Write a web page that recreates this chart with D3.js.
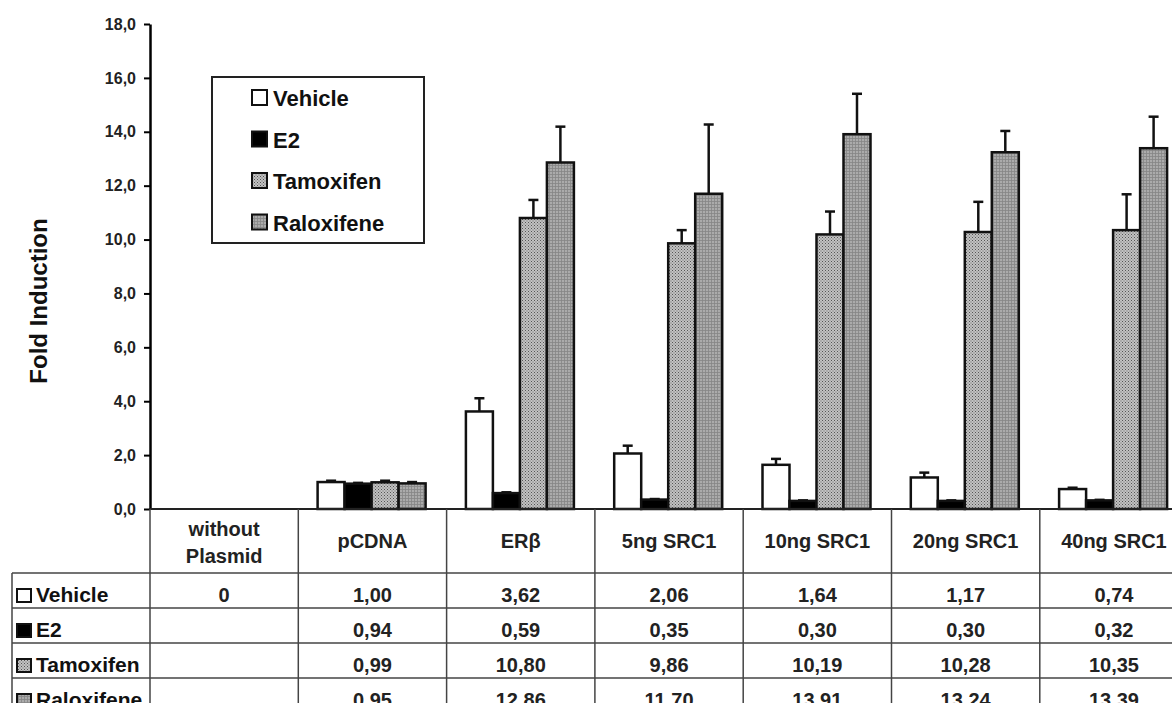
<!DOCTYPE html>
<html><head><meta charset="utf-8">
<script src="https://cdn.jsdelivr.net/npm/d3@7"></script>
<style>body{margin:0;background:#fff}svg{display:block;font-family:"Liberation Sans",Arial,sans-serif;font-weight:bold}</style>
</head><body>
<svg id="c" width="1172" height="703"></svg>
<script>
const categories = ["without Plasmid", "pCDNA", "ERβ", "5ng SRC1", "10ng SRC1", "20ng SRC1", "40ng SRC1"];
const seriesNames = ["Vehicle", "E2", "Tamoxifen", "Raloxifene"];
const vehicle   = [0, 1.00, 3.62, 2.06, 1.64, 1.17, 0.74];
const e2        = [null, 0.94, 0.59, 0.35, 0.30, 0.30, 0.32];
const tamoxifen = [null, 0.99, 10.80, 9.86, 10.19, 10.28, 10.35];
const raloxifene= [null, 0.95, 12.86, 11.70, 13.91, 13.24, 13.39];
const vehicleErr   = [0, 0.05, 0.49, 0.29, 0.22, 0.18, 0.05];
const e2Err        = [0, 0.03, 0.03, 0.02, 0.02, 0.02, 0.02];
const tamoxifenErr = [0, 0.06, 0.67, 0.49, 0.85, 1.12, 1.33];
const raloxifeneErr= [0, 0.05, 1.33, 2.57, 1.50, 0.79, 1.17];
const yTicks = [0, 2, 4, 6, 8, 10, 12, 14, 16, 18];

const values = [vehicle, e2, tamoxifen, raloxifene];
const errs = [vehicleErr, e2Err, tamoxifenErr, raloxifeneErr];
const fills = ["#ffffff", "#000000", "url(#tam)", "url(#ral)"];

const svg = d3.select("#c");
const defs = svg.append("defs");
const pt = defs.append("pattern").attr("id","tam").attr("width",3).attr("height",3).attr("patternUnits","userSpaceOnUse");
pt.append("rect").attr("width",3).attr("height",3).attr("fill","#c2c2c2");
pt.append("rect").attr("x",0).attr("y",0).attr("width",1).attr("height",1).attr("fill","#555");
pt.append("rect").attr("x",1.5).attr("y",1.5).attr("width",1).attr("height",1).attr("fill","#666");
const pr = defs.append("pattern").attr("id","ral").attr("width",3).attr("height",3).attr("patternUnits","userSpaceOnUse");
pr.append("rect").attr("width",3).attr("height",3).attr("fill","#ababab");
pr.append("rect").attr("x",0).attr("y",0).attr("width",3).attr("height",0.8).attr("fill","#858585");
pr.append("rect").attr("x",0).attr("y",0).attr("width",0.8).attr("height",3).attr("fill","#858585");

const left = 150, colW = 148.3, y0 = 509;
const x = d3.scaleBand().domain(categories).range([left, left + colW*categories.length]).paddingInner(0).paddingOuter(0);
const xs = d3.scaleBand().domain(seriesNames).range([19.3, 127.3]).padding(0);
const y = d3.scaleLinear().domain([0, 18]).range([y0, 24]);

// y axis
const yAxis = d3.axisLeft(y).tickValues(yTicks).tickSize(6).tickSizeOuter(0).tickPadding(8)
  .tickFormat(d => d3.format(".1f")(d).replace(".", ","));
const ga = svg.append("g").attr("transform", `translate(${left},0)`).call(yAxis);
ga.select(".domain").attr("stroke","#000").attr("stroke-width",2.5);
ga.selectAll(".tick line").attr("stroke","#000").attr("stroke-width",2);
ga.selectAll(".tick text").attr("font-size",16).attr("font-weight","bold").attr("fill","#222")
  .attr("font-family",'"Liberation Sans",Arial,sans-serif');

svg.append("text").attr("transform","translate(47,301) rotate(-90)").attr("text-anchor","middle")
  .attr("font-size",24).attr("fill","#111").text("Fold Induction");

// bars
seriesNames.forEach((s, si) => {
  const g = svg.append("g");
  categories.forEach((c, ci) => {
    const v = values[si][ci];
    if (v === null || v === 0) return;
    const bx = x(c) + xs(s), bw = xs.bandwidth();
    const e = errs[si][ci];
    const cx = bx + bw/2;
    g.append("line").attr("x1",cx).attr("x2",cx).attr("y1",y(v)).attr("y2",y(v+e)).attr("stroke","#111").attr("stroke-width",2.5);
    g.append("line").attr("x1",cx-5).attr("x2",cx+5).attr("y1",y(v+e)).attr("y2",y(v+e)).attr("stroke","#111").attr("stroke-width",2.5);
    g.append("rect").attr("x",bx).attr("y",y(v)).attr("width",bw).attr("height",y0 - y(v))
      .attr("fill",fills[si]).attr("stroke","#111").attr("stroke-width",2.5);
  });
});

// table
const rowTop = 573, rowH = 35, tableLeft = 12;
const tbl = svg.append("g").attr("stroke","#444").attr("stroke-width",1.5);
tbl.append("line").attr("x1",left).attr("x2",1172).attr("y1",y0).attr("y2",y0).attr("stroke","#222").attr("stroke-width",2);
categories.forEach((c) => {
  tbl.append("line").attr("x1",x(c)).attr("x2",x(c)).attr("y1",y0).attr("y2",703);
});
tbl.append("line").attr("x1",tableLeft).attr("x2",tableLeft).attr("y1",rowTop).attr("y2",703);
seriesNames.forEach((s, si) => {
  tbl.append("line").attr("x1",tableLeft).attr("x2",1172).attr("y1",rowTop+si*rowH).attr("y2",rowTop+si*rowH);
});

// headers
categories.forEach((c) => {
  const cx = x(c) + x.bandwidth()/2;
  if (c === "without Plasmid") {
    svg.append("text").attr("x",cx).attr("y",536).attr("text-anchor","middle").attr("font-size",20).attr("fill","#222").text("without");
    svg.append("text").attr("x",cx).attr("y",563).attr("text-anchor","middle").attr("font-size",20).attr("fill","#222").text("Plasmid");
  } else {
    svg.append("text").attr("x",cx).attr("y",548).attr("text-anchor","middle").attr("font-size",20).attr("fill","#222").text(c);
  }
});

// table values and row labels
const fmt = v => v === 0 ? "0" : d3.format(".2f")(v).replace(".", ",");
seriesNames.forEach((s, si) => {
  const ry = rowTop + si*rowH;
  svg.append("rect").attr("x",17).attr("y",ry+16).attr("width",14).attr("height",13)
    .attr("fill",fills[si]).attr("stroke","#111").attr("stroke-width",2);
  svg.append("text").attr("x",36).attr("y",ry+29).attr("font-size",21).attr("fill","#111").text(s);
  categories.forEach((c, ci) => {
    const v = values[si][ci];
    if (v === null) return;
    svg.append("text").attr("x",x(c)+x.bandwidth()/2).attr("y",ry+29).attr("text-anchor","middle")
      .attr("font-size",20).attr("fill","#222").text(fmt(v));
  });
});

// legend
const lg = svg.append("g").attr("transform","translate(212,77)");
lg.append("rect").attr("width",212).attr("height",166).attr("fill","#fff").attr("stroke","#222").attr("stroke-width",2);
seriesNames.forEach((s, si) => {
  const by = 29 + si*41.5;
  lg.append("rect").attr("x",40).attr("y",by-16).attr("width",15).attr("height",15)
    .attr("fill",fills[si]).attr("stroke","#111").attr("stroke-width",2);
  lg.append("text").attr("x",61).attr("y",by).attr("font-size",22).attr("fill","#111").text(s);
});
</script>
</body></html>
